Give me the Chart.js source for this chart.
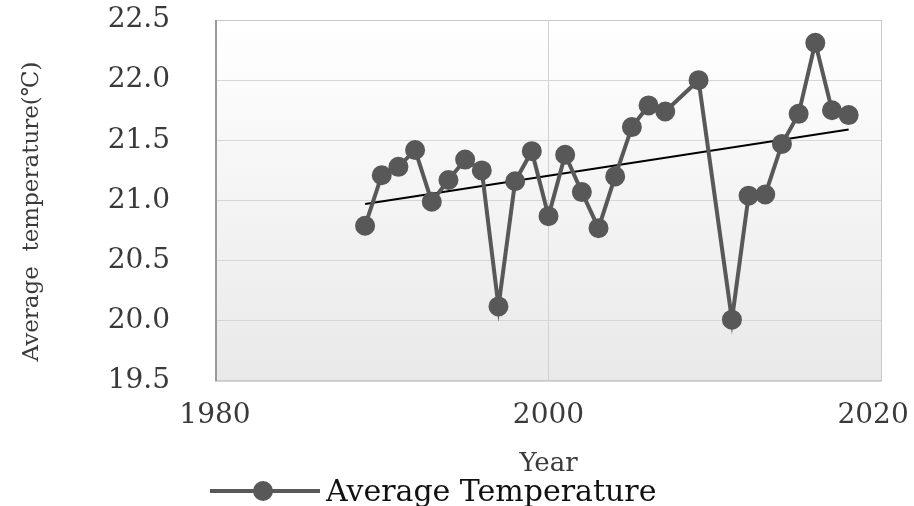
<!DOCTYPE html>
<html>
<head>
<meta charset="utf-8">
<script src="https://cdn.jsdelivr.net/npm/chart.js@4.4.1/dist/chart.umd.min.js"></script>
<style>
  html, body { margin: 0; padding: 0; background: #fff; }
  #wrap { width: 914px; height: 506px; }
</style>
</head>
<body>
<div id="wrap"><canvas id="tempChart" width="914" height="506"></canvas></div>
<script>
// Average temperature per year
const years = [1989, 1990, 1991, 1992, 1993, 1994, 1995, 1996, 1997, 1998,
               1999, 2000, 2001, 2002, 2003, 2004, 2005, 2006, 2007, 2009,
               2011, 2012, 2013, 2014, 2015, 2016, 2017, 2018];
const temps = [20.79, 21.21, 21.28, 21.42, 20.99, 21.17, 21.34, 21.25, 20.12, 21.16,
               21.41, 20.87, 21.38, 21.07, 20.77, 21.20, 21.61, 21.79, 21.74, 22.00,
               20.01, 21.04, 21.05, 21.47, 21.72, 22.31, 21.75, 21.71];

// linear trend line end points
const trendYears = [1989, 2018];
const trendTemps = [20.97, 21.59];

const xTicks = [1980, 2000, 2020];
const yMin = 19.5, yMax = 22.5, yStep = 0.5;

const serif = '"DejaVu Serif", "Liberation Serif", serif';
const textColor = '#3a3a3a';
const seriesColor = '#585858';

// plot area background + frame
const plotBackground = {
    id: 'plotBackground',
    beforeDraw(chart) {
        const { ctx, chartArea: a } = chart;
        const g = ctx.createLinearGradient(0, a.top, 0, a.bottom);
        g.addColorStop(0, '#ffffff');
        g.addColorStop(1, '#e9e9e9');
        ctx.save();
        ctx.fillStyle = g;
        ctx.fillRect(a.left, a.top, a.right - a.left, a.bottom - a.top);
        ctx.restore();
    },
    afterDatasetsDraw(chart) {
        const { ctx, chartArea: a } = chart;
        ctx.save();
        ctx.strokeStyle = '#c8c8c8';
        ctx.lineWidth = 1;
        ctx.strokeRect(a.left + 0.5, a.top + 0.5, a.right - a.left - 1, a.bottom - a.top - 1);
        ctx.strokeStyle = '#9a9a9a';
        ctx.lineWidth = 2;
        ctx.beginPath();
        ctx.moveTo(a.left + 1, a.top);
        ctx.lineTo(a.left + 1, a.bottom);
        ctx.stroke();
        ctx.restore();
    }
};

// legend: line with a marker, then the label
const lineLegend = {
    id: 'lineLegend',
    afterDraw(chart) {
        const ds = chart.data.datasets[0];
        const ctx = chart.ctx;
        const y = 491;
        ctx.save();
        ctx.strokeStyle = ds.borderColor;
        ctx.lineWidth = 4;
        ctx.beginPath();
        ctx.moveTo(210, y);
        ctx.lineTo(320, y);
        ctx.stroke();
        ctx.fillStyle = ds.pointBackgroundColor;
        ctx.beginPath();
        ctx.arc(263, y, 10, 0, Math.PI * 2);
        ctx.fill();
        ctx.fillStyle = '#111';
        ctx.font = '30px ' + serif;
        ctx.textBaseline = 'alphabetic';
        ctx.fillText(ds.label, 326, 501);
        ctx.restore();
    }
};

const ctx = document.getElementById('tempChart').getContext('2d');
new Chart(ctx, {
    type: 'line',
    data: {
        datasets: [{
            label: 'Average Temperature',
            data: years.map((yr, i) => ({ x: yr, y: temps[i] })),
            borderColor: seriesColor,
            backgroundColor: seriesColor,
            pointBackgroundColor: seriesColor,
            pointBorderColor: seriesColor,
            borderWidth: 4,
            pointRadius: 8,
            pointHoverRadius: 8,
            tension: 0
        }, {
            label: 'trend',
            data: trendYears.map((yr, i) => ({ x: yr, y: trendTemps[i] })),
            borderColor: '#000',
            borderWidth: 2,
            pointRadius: 0,
            tension: 0
        }]
    },
    options: {
        responsive: false,
        animation: false,
        layout: { padding: { top: 20, right: 32, left: 0, bottom: 0 } },
        plugins: {
            legend: { display: false },
            tooltip: { enabled: false }
        },
        scales: {
            x: {
                type: 'linear',
                min: 1980,
                max: 2020,
                afterBuildTicks(scale) {
                    scale.ticks = xTicks.map(v => ({ value: v }));
                },
                afterFit(scale) {
                    scale.height = 125;
                    scale.paddingLeft = 0;
                    scale.paddingRight = 0;
                },
                grid: {
                    color: ctx => ctx.tick && ctx.tick.value === 2000 ? '#d0d0d0' : 'rgba(0,0,0,0)',
                    drawTicks: false
                },
                border: { display: false },
                ticks: {
                    padding: 18,
                    color: textColor,
                    font: { family: serif, size: 28 },
                    maxRotation: 0,
                    // last label sits a little left, like the original
                    callback: v => v === 2020 ? '2020  ' : String(v)
                },
                title: {
                    display: true,
                    text: 'Year',
                    color: textColor,
                    font: { family: serif, size: 26 },
                    padding: { top: 0, bottom: 26 }
                }
            },
            y: {
                min: yMin,
                max: yMax,
                afterFit(scale) {
                    scale.width = 215;
                    scale.paddingTop = 0;
                    scale.paddingBottom = 0;
                },
                grid: { color: '#d6d6d6', drawTicks: false },
                border: { display: false },
                ticks: {
                    stepSize: yStep,
                    padding: 45,
                    color: textColor,
                    font: { family: serif, size: 28 },
                    callback: v => v.toFixed(1)
                },
                title: {
                    display: true,
                    // trailing spaces nudge the rotated title down a bit
                    text: 'Average  temperature(℃)   ',
                    color: textColor,
                    font: { family: serif, size: 23 },
                    padding: { top: 18, bottom: 0 }
                }
            }
        }
    },
    plugins: [plotBackground, lineLegend]
});
</script>
</body>
</html>
